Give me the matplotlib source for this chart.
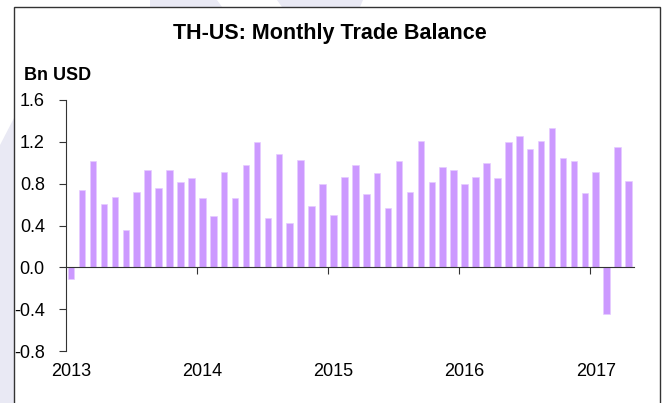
import numpy as np
import matplotlib
matplotlib.use("Agg")
import matplotlib.pyplot as plt
from matplotlib.patches import Rectangle, Polygon
from matplotlib.transforms import blended_transform_factory

plt.rcParams['font.family'] = ['Liberation Sans', 'DejaVu Sans']

# monthly trade balance, Jan 2013 .. Apr 2017 (Bn USD)
months = np.arange(52)
balance = [
    -0.11, 0.74, 1.02, 0.61, 0.67, 0.36, 0.72, 0.93, 0.76, 0.93, 0.82, 0.85,   # 2013
    0.66, 0.49, 0.91, 0.66, 0.98, 1.20, 0.47, 1.08, 0.42, 1.03, 0.59, 0.80,    # 2014
    0.50, 0.86, 0.98, 0.70, 0.90, 0.57, 1.02, 0.72, 1.21, 0.82, 0.96, 0.93,    # 2015
    0.80, 0.86, 1.00, 0.85, 1.20, 1.26, 1.13, 1.21, 1.33, 1.05, 1.02, 0.71,    # 2016
    0.91, -0.45, 1.15, 0.83,                                                   # 2017
]
years = ['2013', '2014', '2015', '2016', '2017']
year_starts = [0, 12, 24, 36, 48]
yticks = [-0.8, -0.4, 0.0, 0.4, 0.8, 1.2, 1.6]

W, H = 669, 403
fig = plt.figure(figsize=(W / 100, H / 100), dpi=100)
fig.patch.set_facecolor('white')

# faint watermark shapes outside the frame
wm = '#e9e9f4'
fig.patches.append(Polygon([(0, 0), (14 / W, 0), (14 / W, 1 - 118 / H), (0, 1 - 145 / H)],
                           closed=True, transform=fig.transFigure, facecolor=wm,
                           edgecolor='none', zorder=0))
fig.patches.append(Polygon([(150 / W, 1), (217 / W, 1), (222 / W, 1 - 7 / H), (150 / W, 1 - 7 / H)],
                           closed=True, transform=fig.transFigure, facecolor=wm,
                           edgecolor='none', zorder=0))
fig.patches.append(Polygon([(277 / W, 1), (363 / W, 1), (360 / W, 1 - 7 / H), (282 / W, 1 - 7 / H)],
                           closed=True, transform=fig.transFigure, facecolor=wm,
                           edgecolor='none', zorder=0))

# chart frame (left, top, right)
fig.patches.append(Rectangle((14 / W, -0.1), (660 - 14) / W, 1.1 - 7 / H,
                             transform=fig.transFigure, facecolor='white',
                             edgecolor='#333333', linewidth=1.0, zorder=1))

ax = fig.add_axes([65.7 / W, 1 - 351 / H, (634 - 65.7) / W, (351 - 100) / H])
ax.set_facecolor('none')
ax.set_zorder(2)

ax.bar(months, balance, width=0.6, color='#cc99ff', edgecolor='#e6ccff',
       linewidth=0.5, zorder=2)

ax.set_xlim(-0.5, 51.5)
ax.set_ylim(-0.8, 1.6)
ax.set_yticks(yticks)
ax.set_yticklabels([f'{v:.1f}' for v in yticks])

for s in ['top', 'right']:
    ax.spines[s].set_visible(False)
ax.spines['left'].set_color('#333333')
ax.spines['bottom'].set_color('#333333')
ax.spines['bottom'].set_position(('data', 0))
ax.spines['bottom'].set_zorder(3)

ax.set_xticks([s - 0.5 for s in year_starts[1:]])
ax.set_xticklabels([])
ax.tick_params(axis='x', direction='out', length=5, color='#333333')
ax.tick_params(axis='y', direction='out', length=5, color='#333333',
               labelsize=13, pad=10)

# year labels below the plot, centred on January bars
trans = blended_transform_factory(ax.transData, ax.transAxes)
for yr, start in zip(years, year_starts):
    ax.text(start, -0.08, yr, transform=trans, ha='center', va='center', fontsize=13)

fig.text(330 / W, 1 - 33 / H, 'TH-US: Monthly Trade Balance', ha='center', va='center',
         fontsize=15.5, fontweight='bold')
fig.text(24 / W, 1 - 75 / H, 'Bn USD', ha='left', va='center',
         fontsize=13, fontweight='bold')

fig.savefig('out.png', dpi=100)
